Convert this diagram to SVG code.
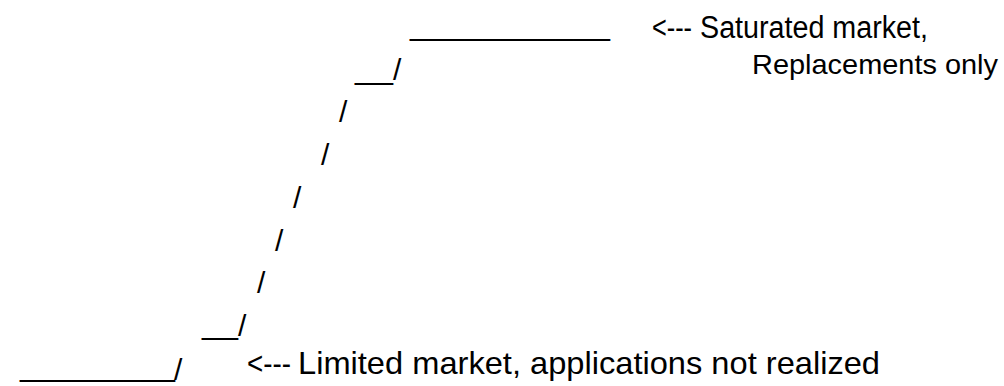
<svg xmlns="http://www.w3.org/2000/svg" width="1004" height="386" viewBox="0 0 1004 386">
<style>
.t{font-family:"Liberation Sans",Arial,Helvetica,sans-serif;font-size:31px;fill:#000}
.r{font-family:"Liberation Sans",Arial,Helvetica,sans-serif;font-size:28px;fill:#000}
.b{font-family:"Liberation Sans",Arial,Helvetica,sans-serif;font-size:32px;fill:#000}
.g{font-family:"Liberation Sans",Arial,Helvetica,sans-serif;font-size:30px;fill:#000}
</style>
<rect width="1004" height="386" fill="#fff"/>
<g id="curve">
<text class="g" x="410" y="35" textLength="200" lengthAdjust="spacingAndGlyphs">___________</text>
<text class="g" x="355" y="79" textLength="38" lengthAdjust="spacingAndGlyphs">__</text>
<text class="g" x="393" y="80">/</text>
<text class="g" x="339" y="122">/</text>
<text class="g" x="321" y="165">/</text>
<text class="g" x="293" y="208">/</text>
<text class="g" x="275" y="251">/</text>
<text class="g" x="257" y="293">/</text>
<text class="g" x="238" y="336">/</text>
<text class="g" x="202" y="334" textLength="36" lengthAdjust="spacingAndGlyphs">__</text>
<text class="g" x="20" y="376" textLength="155" lengthAdjust="spacingAndGlyphs">_________</text>
<text class="g" x="174" y="380">/</text>
</g>
<g id="label-top">
<text class="t" x="652" y="38" textLength="40" lengthAdjust="spacingAndGlyphs">&lt;---</text>
<text class="t" x="700" y="38" textLength="228" lengthAdjust="spacingAndGlyphs">Saturated market,</text>
<text class="r" x="752" y="74" textLength="246" lengthAdjust="spacingAndGlyphs">Replacements only</text>
</g>
<g id="label-bottom">
<text class="b" x="247" y="374" textLength="44" lengthAdjust="spacingAndGlyphs">&lt;---</text>
<text class="b" x="298" y="374" textLength="582" lengthAdjust="spacingAndGlyphs">Limited market, applications not realized</text>
</g>
</svg>
